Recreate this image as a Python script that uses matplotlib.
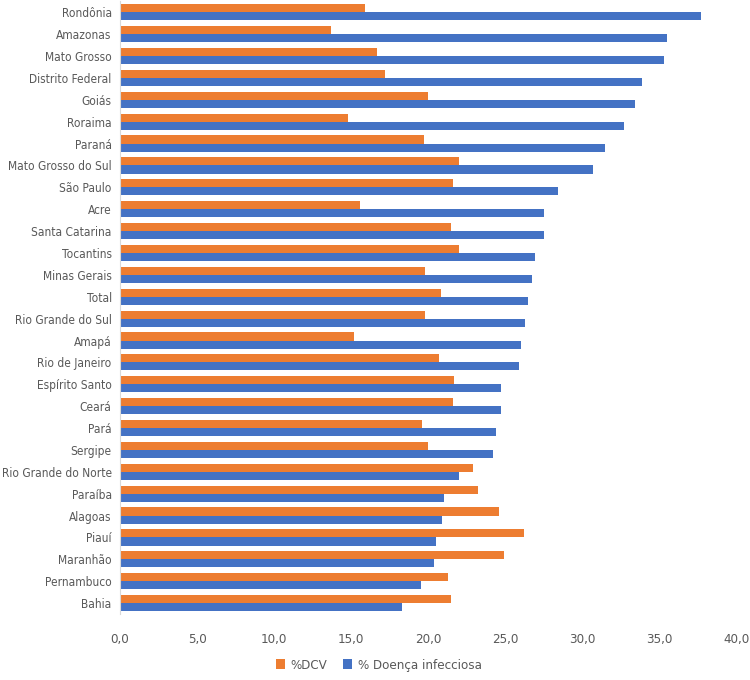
import numpy as np
import matplotlib
matplotlib.use("Agg")
from matplotlib import pyplot as plt
from matplotlib.ticker import FuncFormatter

plt.rcParams['font.family'] = ['DejaVu Sans']
plt.rcParams['font.stretch'] = 'condensed'

# Categories top to bottom as shown
estados = ["Rondônia", "Amazonas", "Mato Grosso", "Distrito Federal", "Goiás", "Roraima",
           "Paraná", "Mato Grosso do Sul", "São Paulo", "Acre", "Santa Catarina", "Tocantins",
           "Minas Gerais", "Total", "Rio Grande do Sul", "Amapá", "Rio de Janeiro",
           "Espírito Santo", "Ceará", "Pará", "Sergipe", "Rio Grande do Norte", "Paraíba",
           "Alagoas", "Piauí", "Maranhão", "Pernambuco", "Bahia"]

dcv = [15.9, 13.7, 16.7, 17.2, 20.0, 14.8, 19.7, 22.0, 21.6, 15.6, 21.5, 22.0, 19.8, 20.8,
       19.8, 15.2, 20.7, 21.7, 21.6, 19.6, 20.0, 22.9, 23.2, 24.6, 26.2, 24.9, 21.3, 21.5]

infec = [37.7, 35.5, 35.3, 33.9, 33.4, 32.7, 31.5, 30.7, 28.4, 27.5, 27.5, 26.9, 26.7, 26.5,
         26.3, 26.0, 25.9, 24.7, 24.7, 24.4, 24.2, 22.0, 21.0, 20.9, 20.5, 20.4, 19.5, 18.3]

cor_dcv = "#ED7D31"
cor_inf = "#4472C4"
cinza = "#595959"

fig = plt.figure(figsize=(7.5, 6.8), dpi=100)
ax = fig.add_axes([0.16, 0.097, 0.822, 0.901])

n = len(estados)
y = np.arange(n)[::-1]
h = 0.37

ax.barh(y + h / 2, dcv, height=h, color=cor_dcv, label="%DCV")
ax.barh(y - h / 2, infec, height=h, color=cor_inf, label="% Doença infecciosa")

ax.set_xlim(0, 40)
ax.set_ylim(-0.5, n - 0.5)
ax.set_xticks(np.arange(0, 41, 5))
ax.xaxis.set_major_formatter(FuncFormatter(lambda v, p: f"{v:.1f}".replace(".", ",")))
ax.set_yticks(y)
ax.set_yticklabels(estados)

ax.tick_params(axis="y", length=0, colors=cinza, labelsize=8.6, pad=6)
ax.tick_params(axis="x", length=0, colors=cinza, labelsize=9.5, pad=14)

for s in ["top", "right", "bottom"]:
    ax.spines[s].set_visible(False)
ax.spines["left"].set_color("#D9D9D9")

fig.legend(loc="center", bbox_to_anchor=(0.505, 0.022), ncol=2, frameon=False,
           fontsize=9.5, labelcolor=cinza, handlelength=0.7, handleheight=0.7,
           handletextpad=0.4, columnspacing=1.2)

fig.savefig("out.png", dpi=100)
